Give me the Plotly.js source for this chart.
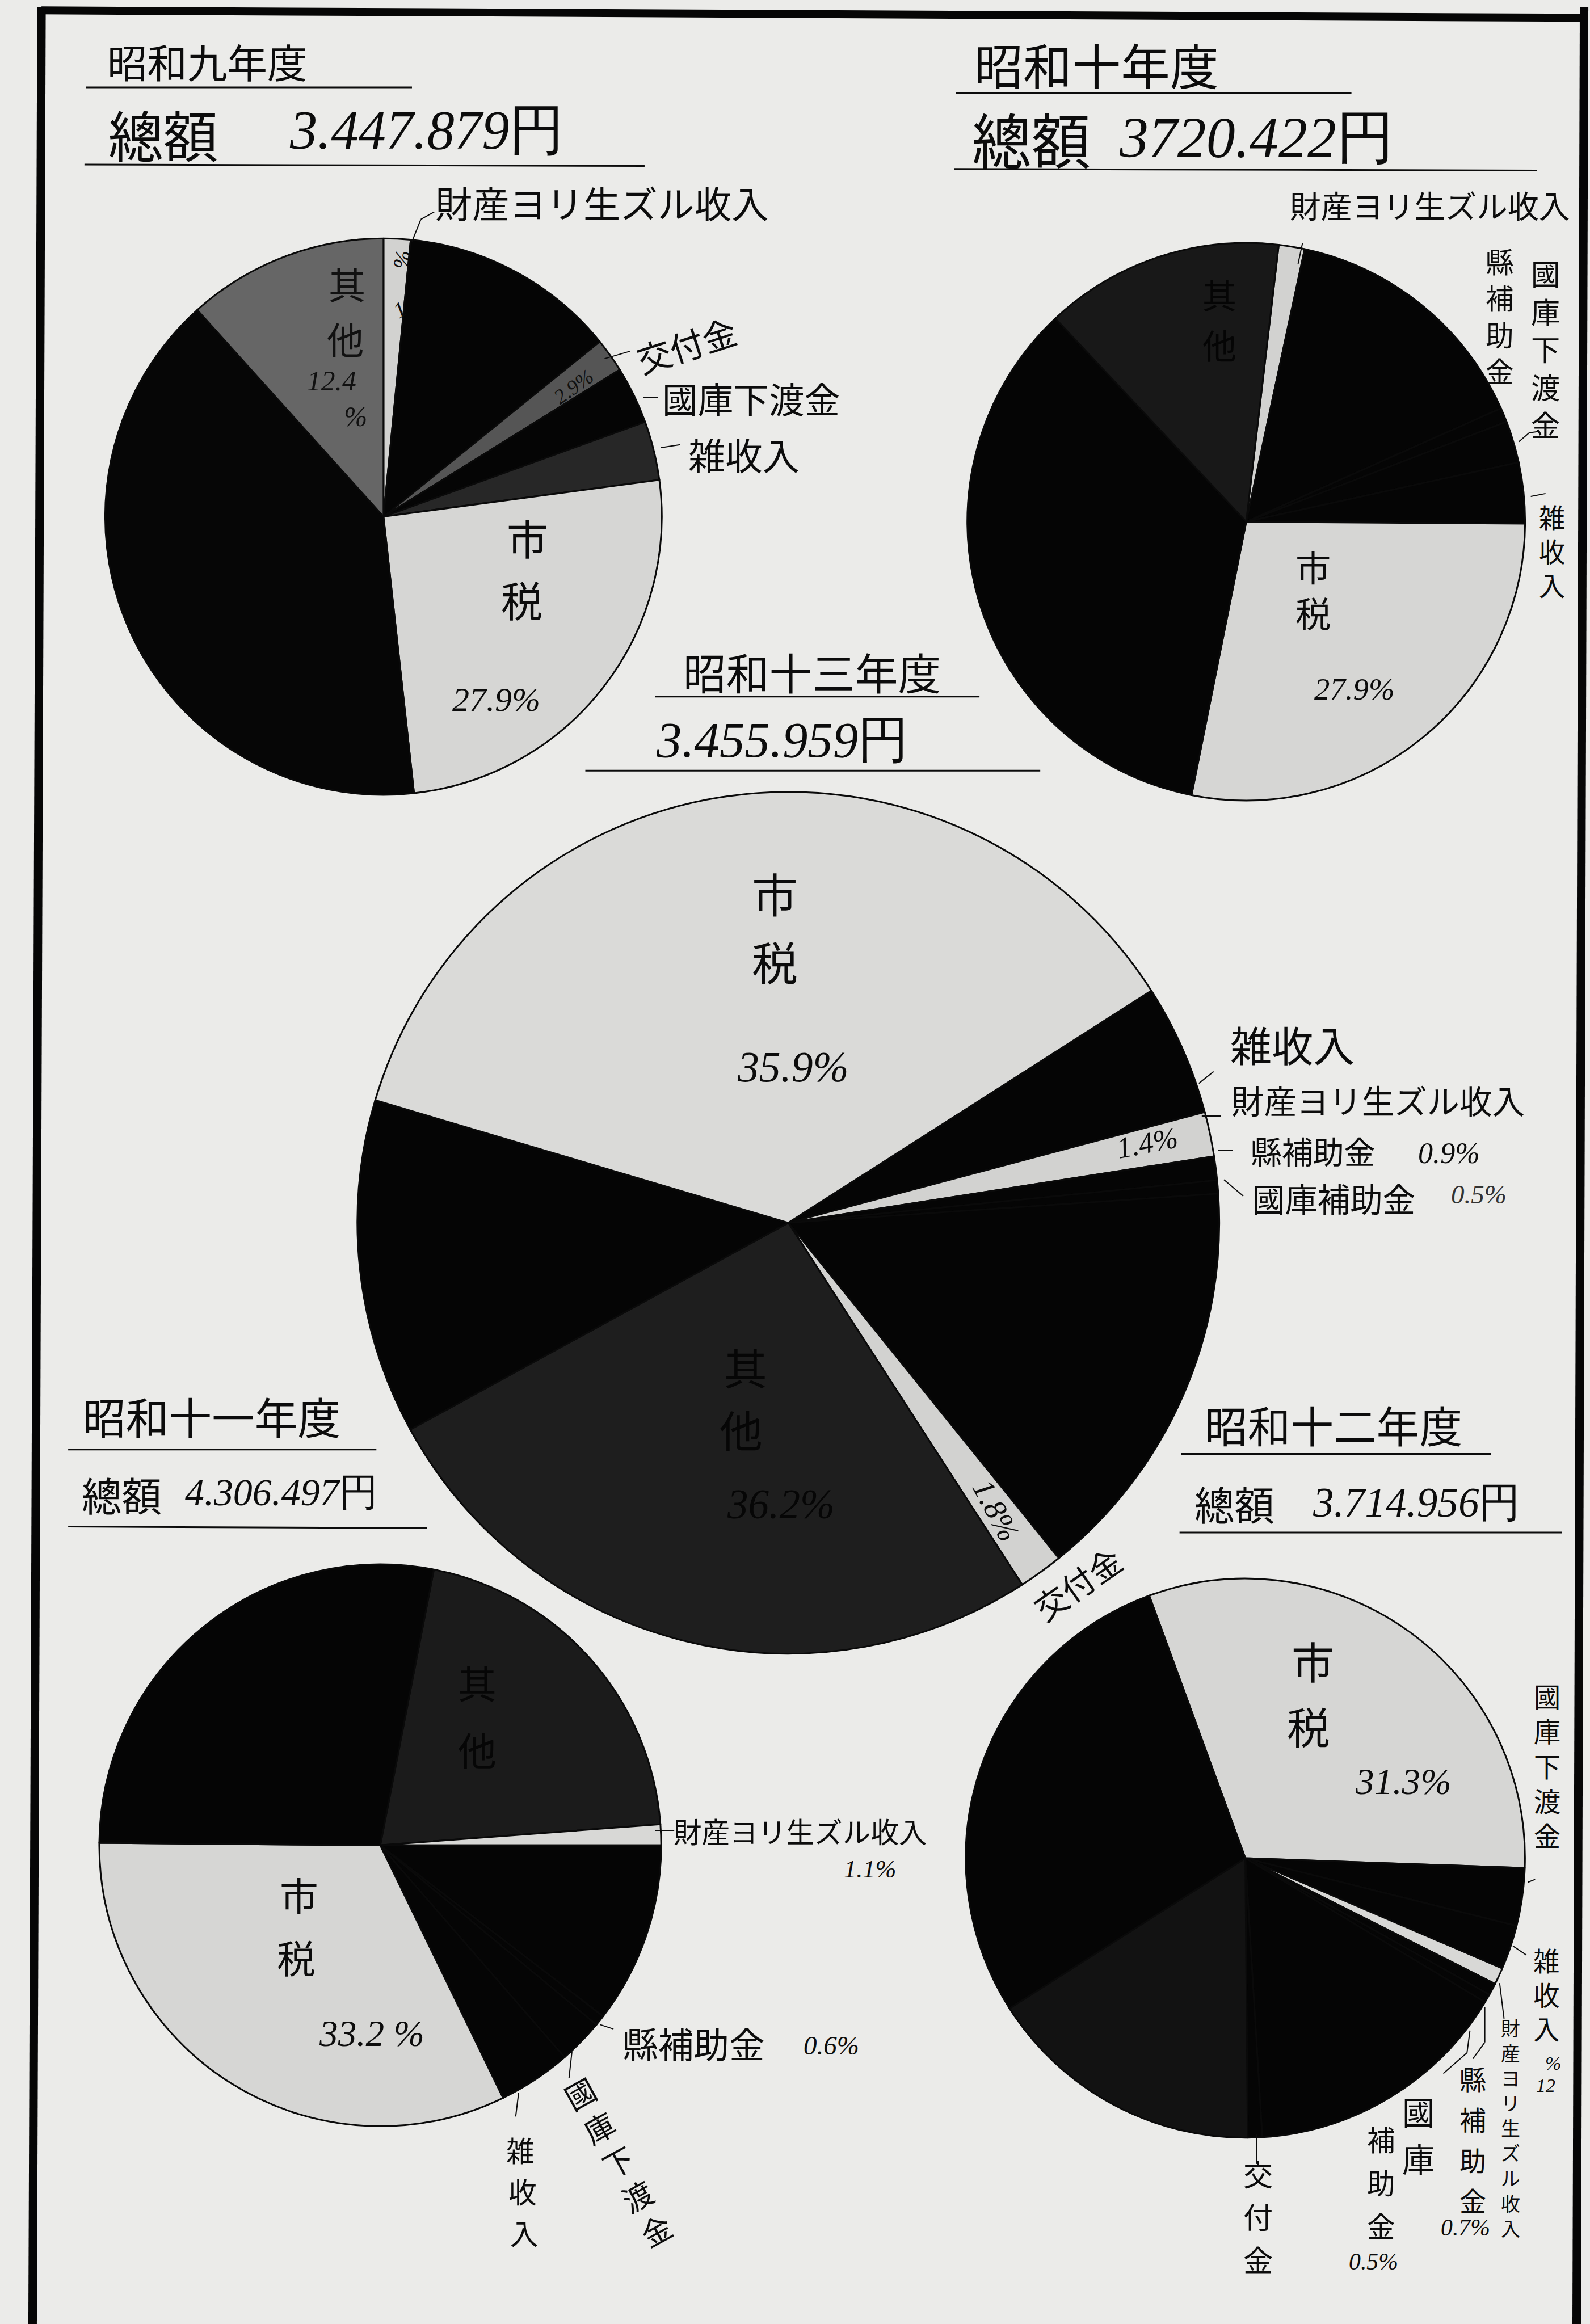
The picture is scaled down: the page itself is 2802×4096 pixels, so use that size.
<!DOCTYPE html>
<html>
<head>
<meta charset="utf-8">
<script src="https://cdn.plot.ly/plotly-3.0.1.min.js"></script>
<style>html,body{margin:0;padding:0;background:#ebebe9}#chart{width:2802px;height:4096px}</style>
</head>
<body>
<div id="chart"></div>
<script>
// ---- data: share of each segment (%) ----
var years = ['昭和九年度', '昭和十年度', '昭和十三年度', '昭和十一年度', '昭和十二年度'];

var labels9  = ['財産ヨリ生ズル收入', '未詳A', '交付金', '國庫下渡金', '雑收入', '市税', '未詳B', '其他'];
var values9  = [1.56, 12.61, 1.97, 3.33, 3.42, 25.36, 40.08, 11.67];
var colors9  = ['#d2d2d0', '#050505', '#555555', '#050505', '#272727', '#d6d6d4', '#060606', '#666666'];

var labels10 = ['財産ヨリ生ズル收入', '未詳A', '縣補助金', '國庫下渡金', '雑收入', '市税', '未詳B', '其他'];
var values10 = [1.5, 14.97, 0.83, 2.42, 3.53, 28.03, 34.86, 13.86];
var colors10 = ['#d2d2d0', '#050505', '#050505', '#050505', '#050505', '#d6d6d4', '#050505', '#181818'];

var labels13 = ['雑收入', '財産ヨリ生ズル收入', '縣補助金', '國庫補助金', '未詳A', '交付金', '其他', '未詳B', '市税'];
var values13 = [4.92, 1.67, 0.89, 0.5, 15.28, 1.67, 26.17, 12.56, 36.36];
var colors13 = ['#050505', '#d2d2d0', '#050505', '#050505', '#050505', '#d2d2d0', '#1e1e1e', '#050505', '#dadad8'];

var labels11 = ['其他', '財産ヨリ生ズル收入', '未詳A', '縣補助金', '國庫下渡金', '雑收入', '市税', '未詳B'];
var values11 = [20.75, 1.19, 10.42, 0.61, 2.58, 4.19, 32.33, 27.92];
var colors11 = ['#1b1b1b', '#d8d8d6', '#050505', '#050505', '#050505', '#050505', '#d6d6d4', '#050505'];

var labels12 = ['市税', '國庫下渡金', '雑收入', '財産ヨリ生ズル收入', '縣補助金', '國庫補助金', '未詳A', '交付金', '其他', '未詳B'];
var values12 = [31.14, 3.33, 2.56, 0.97, 0.69, 0.5, 15.42, 0.83, 16.11, 28.44];
var colors12 = ['#d6d6d4', '#050505', '#050505', '#d8d8d6', '#050505', '#050505', '#050505', '#050505', '#121212', '#050505'];

// ---- layout helpers: all positions are given on the 1073x1568 view of the reference ----
var W = 1073, H = 1568, S = 2802 / 1073;
var SANS = '"Noto Sans CJK JP", sans-serif', NUM = '"Liberation Serif", serif';
var INK = '#0c0c0c';
var ann = [], shp = [];

function pie(labels, values, colors, rotation, cx, cy, r) {
  return {
    type: 'pie', labels: labels, values: values, sort: false, direction: 'clockwise',
    rotation: rotation, textinfo: 'none', hoverinfo: 'label+percent', showlegend: false,
    marker: {colors: colors, line: {color: '#0a0a0a', width: 3}},
    domain: {x: [(cx - r) / W, (cx + r) / W], y: [1 - (cy + r) / H, 1 - (cy - r) / H]}
  };
}
function t(text, x, y, size, o) {
  o = o || {};
  ann.push({
    text: o.num ? text.replace(/^([^円]*)(円?)$/, '<i>$1</i>$2') : text,
    x: x / W, y: 1 - y / H, xref: 'paper', yref: 'paper', showarrow: false,
    xanchor: 'center', yanchor: 'middle', textangle: o.a || 0, borderpad: 0, align: 'center',
    font: {family: o.num ? NUM : SANS, size: size * S, color: o.c || INK}
  });
}
// characters stacked downward between two points: loosely spaced ones stand alone at their
// own size, tightly spaced ones form one block whose line spacing sets the size
function v(str, x0, y0, x1, y1, size, o) {
  var ch = Array.from(str), n = ch.length;
  var spacing = Math.sqrt(Math.pow(x1 - x0, 2) + Math.pow(y1 - y0, 2)) / (n - 1);
  if (size * 1.45 <= spacing) {
    ch.forEach(function (c, i) {
      var f = i / (n - 1);
      t(c, x0 + (x1 - x0) * f, y0 + (y1 - y0) * f, size, o);
    });
  } else {
    t(ch.join('<br>'), (x0 + x1) / 2, (y0 + y1) / 2, spacing / 1.3, o);
  }
}
function l(x0, y0, x1, y1, w, c) {
  shp.push({type: 'line', xref: 'paper', yref: 'paper', x0: x0 / W, x1: x1 / W, y0: 1 - y0 / H, y1: 1 - y1 / H,
    line: {color: c || INK, width: w || 2}});
}
function poly() { var a = arguments; for (var i = 0; i + 3 < a.length; i += 2) l(a[i], a[i + 1], a[i + 2], a[i + 3], 2); }

// frame (open at the bottom of the sheet)
l(28, 7, 1069, 12, 14, '#060606');
l(28, 5, 22, 1568, 15, '#060606');
l(1069, 5, 1064, 1568, 15, '#060606');

// ---- 昭和九年度 ----
t(years[0], 140, 41, 27);
l(58, 59, 278, 59, 3);
t('總額', 110, 90, 37);
t('3.447.879円', 288, 88, 37, {num: 1});
l(57, 111, 435, 112, 3);
t('財産ヨリ生ズル收入', 406, 136, 25);
poly(278, 163, 284, 148, 293, 143);
t('交付金', 463, 232, 23, {a: -18});
poly(408, 242, 425, 237);
t('國庫下渡金', 507, 268, 24);
poly(434, 268, 444, 268);
t('雑收入', 502, 306, 25);
poly(446, 302, 459, 300);
v('市税', 356, 362, 352, 404, 28);
t('27.9%', 335, 472, 23, {num: 1});
v('其他', 234, 191, 233, 228, 25, {c: '#111'});
t('12.4', 224, 257, 19, {num: 1, c: '#111'});
t('%', 240, 281, 19, {num: 1, c: '#111'});
t('%', 271, 175, 15, {num: 1, a: -80});
t('1', 270, 209, 15, {num: 1, a: -30});
t('2.9%', 387, 261, 14, {num: 1, a: -36, c: '#111'});

// ---- 昭和十年度 ----
t(years[1], 740, 43, 33);
l(645, 63, 912, 63, 3);
t('總額', 696, 93, 40);
t('3720.422円', 848, 93, 39, {num: 1});
l(644, 114, 1037, 115, 3);
t('財産ヨリ生ズル收入', 965, 138, 21);
poly(879, 164, 876, 178);
v('國庫下渡金', 1043, 184, 1043, 286, 21);
v('縣補助金', 1012, 176, 1012, 250, 20);
poly(1025, 298, 1032, 292, 1039, 291);
poly(1033, 335, 1043, 333);
v('雑收入', 1046, 348, 1049, 394, 21);
v('市税', 885, 382, 887, 413, 26);
t('27.9%', 914, 465, 21, {num: 1});
v('其他', 823, 198, 823, 232, 23, {c: '#050505'});

// ---- 昭和十三年度 ----
t(years[2], 548, 453, 29);
l(442, 470, 661, 470, 3);
t('3.455.959円', 528, 499, 34, {num: 1});
l(395, 520, 702, 520, 3);
v('市税', 523, 602, 523, 648, 31);
t('35.9%', 535, 720, 29, {num: 1});
t('雑收入', 872, 704, 28);
poly(809, 731, 819, 723);
t('財産ヨリ生ズル收入', 930, 742, 22);
poly(811, 753, 824, 753);
t('1.4%', 774, 771, 20, {num: 1, a: -11});
t('縣補助金', 886, 776, 21);
t('0.9%', 978, 778, 20, {num: 1});
poly(822, 776, 832, 776);
t('國庫補助金', 900, 808, 22);
t('0.5%', 998, 806, 18, {num: 1, c: '#333'});
poly(826, 796, 839, 807);
t('1.8%', 672, 1019, 21, {num: 1, a: 62});
t('交付金', 727, 1068, 22, {a: -35});
v('其他', 503, 922, 500, 964, 29, {c: '#060606'});
t('36.2%', 527, 1015, 28, {num: 1, c: '#060606'});

// ---- 昭和十一年度 ----
t(years[3], 143, 955, 29);
l(46, 978, 254, 978, 3);
t('總額', 82, 1008, 27);
t('4.306.497円', 190, 1007, 26, {num: 1});
l(46, 1030, 288, 1031, 3);
t('財産ヨリ生ズル收入', 540, 1235, 19);
poly(442, 1235, 455, 1235);
t('1.1%', 587, 1261, 17, {num: 1});
v('市税', 202, 1278, 200, 1320, 26);
t('33.2 %', 251, 1372, 25, {num: 1});
t('縣補助金', 468, 1378, 24);
t('0.6%', 561, 1380, 18, {num: 1});
poly(405, 1366, 414, 1369);
v('國庫下渡金', 391, 1412, 443, 1504, 21, {a: -29});
poly(386, 1384, 384, 1402);
v('雑收入', 351, 1450, 354, 1506, 19);
poly(350, 1412, 348, 1428);
v('其他', 322, 1135, 322, 1180, 26, {c: '#060606'});

// ---- 昭和十二年度 ----
t(years[4], 900, 961, 29);
l(797, 981, 1006, 981, 3);
t('總額', 833, 1014, 27);
t('3.714.956円', 956, 1014, 28, {num: 1});
l(796, 1034, 1054, 1034, 3);
v('市税', 886, 1120, 883, 1164, 29);
t('31.3%', 947, 1202, 25, {num: 1});
v('國庫下渡金', 1044, 1144, 1044, 1238, 21);
poly(1031, 1270, 1036, 1268);
v('雑收入', 1042, 1322, 1045, 1368, 23);
poly(1021, 1313, 1030, 1319);
t('%', 1048, 1392, 13, {num: 1});
t('12', 1043, 1407, 13, {num: 1});
v('財産ヨリ生ズル收入', 1018, 1368, 1021, 1503, 17);
poly(1012, 1338, 1015, 1362);
v('縣補助金', 994, 1402, 994, 1484, 18);
t('0.7%', 989, 1503, 16, {num: 1});
poly(1002, 1354, 1002, 1378, 994, 1389);
v('國庫', 957, 1424, 957, 1456, 22);
v('補助金', 932, 1443, 932, 1501, 19);
t('0.5%', 927, 1526, 16, {num: 1});
poly(992, 1370, 990, 1385, 974, 1399);
v('交付金', 849, 1466, 849, 1524, 20);
poly(848, 1440, 848, 1460);

var traces = [
  pie(labels9, values9, colors9, 0, 258.8, 348.6, 187.8),
  pie(labels10, values10, colors10, 6.7, 841, 352, 188.2),
  pie(labels13, values13, colors13, 57.4, 532, 825, 290.8),
  pie(labels11, values11, colors11, 11, 256.6, 1245, 189.6),
  pie(labels12, values12, colors12, 339.9, 840.4, 1253.7, 188.7)
];

Plotly.newPlot('chart', traces, {
  width: 2802, height: 4096, margin: {l: 0, r: 0, t: 0, b: 0, pad: 0},
  paper_bgcolor: '#ebebe9', plot_bgcolor: '#ebebe9', showlegend: false,
  annotations: ann, shapes: shp
}, {staticPlot: true, displayModeBar: false});
</script>
</body>
</html>
